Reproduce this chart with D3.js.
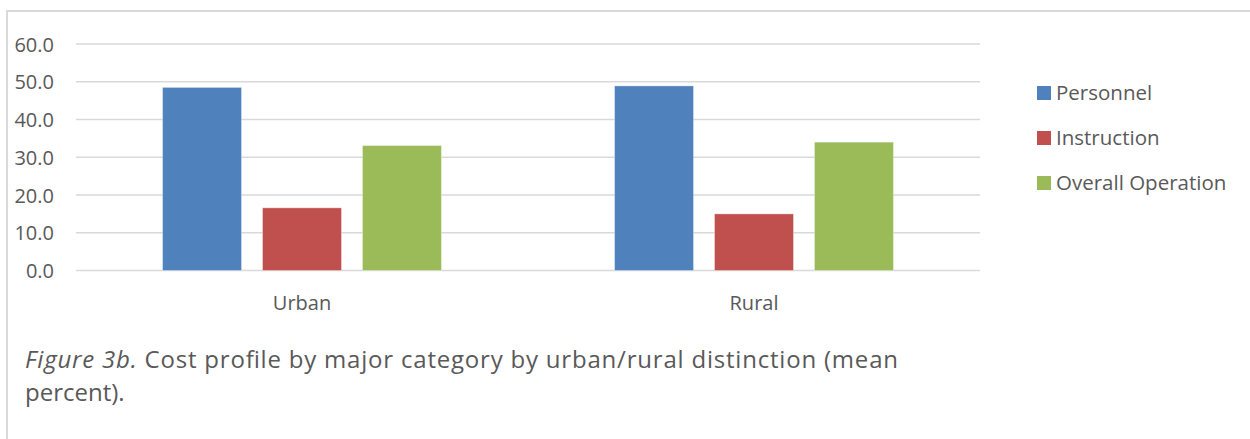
<!DOCTYPE html>
<html>
<head>
<meta charset="utf-8">
<script src="https://cdn.jsdelivr.net/npm/d3@7"></script>
<style>
	html, body { margin: 0; padding: 0; background: #fff; }
	svg text { font-family: "Open Sans", sans-serif; fill: #595959; }
</style>
</head>
<body>
<div id="chart"></div>
<script>

// chart data
var categories = ["Urban", "Rural"];
var seriesNames = ["Personnel", "Instruction", "Overall Operation"];
var personnel = [48.5, 48.9];
var instruction = [16.6, 15.0];
var overallOperation = [33.1, 34.0];
var yTicks = [0, 10, 20, 30, 40, 50, 60];
var colors = ["#4f81bd", "#c0504d", "#9bbb59"];

var seriesValues = [personnel, instruction, overallOperation];

var width = 1250, height = 439,
	plot = {left: 76, right: 980, top: 44, bottom: 270.5};

var svg = d3.select("#chart")
	.append("svg")
	.attr("width", width)
	.attr("height", height);

// frame (only top and left edges are visible)
svg.append("path")
	.attr("d", "M7,439 V11 H1250")
	.attr("fill", "none")
	.attr("stroke", "#d9d9d9")
	.attr("stroke-width", 2);

var y = d3.scaleLinear().domain([0, 60]).range([plot.bottom, plot.top]);

var x0 = d3.scaleBand()
	.domain(categories)
	.range([plot.left, plot.right])
	.paddingInner(0.383)
	.paddingOuter(0.1915);

var x1 = d3.scaleBand()
	.domain(seriesNames)
	.range([0, x0.bandwidth()])
	.paddingInner(0.21);

// gridlines
svg.append("g")
	.selectAll("line")
	.data(yTicks)
	.enter().append("line")
		.attr("x1", plot.left)
		.attr("x2", plot.right)
		.attr("y1", function(d) { return y(d); })
		.attr("y2", function(d) { return y(d); })
		.attr("stroke", "#d9d9d9")
		.attr("stroke-width", 1.5);

// y axis labels
var yAxis = svg.append("g")
	.attr("transform", "translate(54,0)")
	.call(d3.axisLeft(y).tickValues(yTicks).tickSize(0).tickPadding(0).tickFormat(d3.format(".1f")));

yAxis.select(".domain").remove();
yAxis.selectAll("text")
	.attr("fill", "#595959")
	.style("font-size", "20px")
	.style("font-family", "'Open Sans', sans-serif")
	.attr("dy", "0.36em");

// bars
var groups = svg.append("g")
	.selectAll("g")
	.data(categories)
	.enter().append("g")
		.attr("transform", function(d) { return "translate(" + x0(d) + ",0)"; });

groups.selectAll("rect")
	.data(function(d, ci) {
		return seriesNames.map(function(s, si) { return {series: s, value: seriesValues[si][ci], color: colors[si]}; });
	})
	.enter().append("rect")
		.attr("x", function(d) { return x1(d.series); })
		.attr("width", x1.bandwidth())
		.attr("y", function(d) { return y(d.value); })
		.attr("height", function(d) { return y(0) - y(d.value); })
		.attr("fill", function(d) { return d.color; })
		.attr("stroke", "#ffffff")
		.attr("stroke-opacity", 0.35)
		.attr("stroke-width", 1);

// category labels
svg.append("g")
	.selectAll("text")
	.data(categories)
	.enter().append("text")
		.attr("x", function(d) { return x0(d) + x0.bandwidth() / 2; })
		.attr("y", 310)
		.attr("text-anchor", "middle")
		.style("font-size", "20px")
		.text(function(d) { return d; });

// legend
var legendItem = svg.append("g")
	.selectAll("g")
	.data(seriesNames)
	.enter().append("g")
		.attr("transform", function(d, i) { return "translate(1037," + (86 + i * 45) + ")"; });

legendItem.append("rect")
	.attr("width", 14)
	.attr("height", 14)
	.attr("fill", function(d, i) { return colors[i]; });

legendItem.append("text")
	.attr("x", 19)
	.attr("y", 14)
	.style("font-size", "20.5px")
	.text(function(d) { return d; });

// caption
var caption = svg.append("text")
	.attr("x", 25)
	.attr("y", 368)
	.attr("textLength", 873)
	.attr("lengthAdjust", "spacing")
	.style("font-size", "24px");

caption.append("tspan")
	.style("font-style", "italic")
	.text("Figure 3b.");

caption.append("tspan")
	.text(" Cost profile by major category by urban/rural distinction (mean");

svg.append("text")
	.attr("x", 25)
	.attr("y", 401)
	.style("font-size", "24px")
	.text("percent).");

</script>
</body>
</html>
